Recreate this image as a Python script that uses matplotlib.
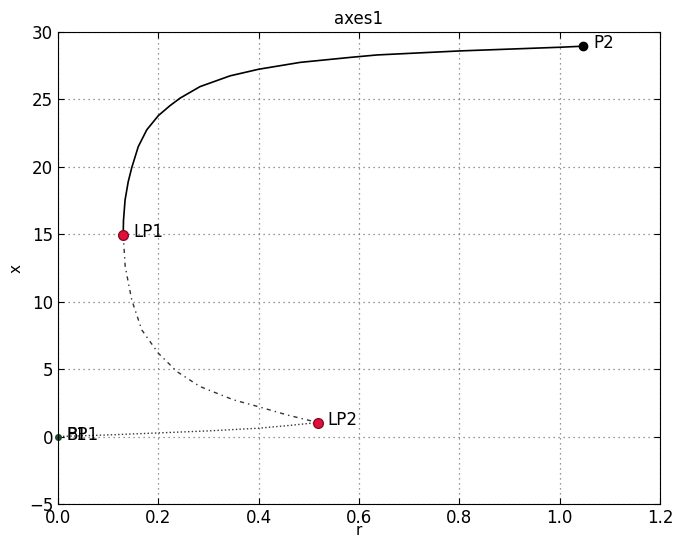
import numpy as np
import matplotlib
matplotlib.use("Agg")
import matplotlib.pyplot as plt

# stable branch LP1 -> P2
stab_r = [0.130, 0.1305, 0.1337, 0.140, 0.147, 0.160, 0.177, 0.200, 0.2236,
          0.2435, 0.283, 0.343, 0.400, 0.483, 0.583, 0.636, 0.802, 1.000, 1.047]
stab_x = [14.95, 16.0, 17.55, 18.9, 19.94, 21.5, 22.75, 23.8, 24.55,
          25.1, 25.95, 26.75, 27.24, 27.75, 28.12, 28.3, 28.6, 28.87, 28.95]

# unstable branch LP1 -> LP2
unst_r = [0.130, 0.134, 0.147, 0.167, 0.200, 0.237, 0.283, 0.350, 0.403, 0.456, 0.518]
unst_x = [14.95, 12.6, 10.13, 7.91, 6.18, 4.82, 3.71, 2.72, 2.18, 1.61, 1.04]

# branch LP2 -> BP1
low_r = [0.518, 0.46, 0.40, 0.30, 0.20, 0.10, 0.0]
low_x = [1.04, 0.82, 0.62, 0.42, 0.27, 0.12, 0.0]

lp_names = ["LP1", "LP2"]
lp_r = [0.130, 0.518]
lp_x = [14.95, 1.04]

fig = plt.figure(figsize=(6.76, 5.40), dpi=100)
ax = fig.add_axes([0.0858, 0.0667, 0.8905, 0.874])

ax.plot(stab_r, stab_x, "-", color="black", linewidth=1.2)
ax.plot(unst_r, unst_x, linestyle=(0, (3, 3, 1, 3)), color="#333333", linewidth=1.0)
ax.plot(low_r, low_x, ":", color="#333333", linewidth=1.0)

ax.plot(lp_r, lp_x, "o", color="#e0103a", markeredgecolor="#8a0a20", markersize=7)
ax.plot([1.047], [28.95], "o", color="black", markersize=6)
ax.plot([0.0], [0.0], "o", color="#1a4a2a", markersize=4, clip_on=False)

for name, r, x in zip(lp_names, lp_r, lp_x):
    ax.annotate(name, (r, x), xytext=(7, 2), textcoords="offset points",
                fontsize=12, va="center")
ax.annotate("P2", (1.047, 28.95), xytext=(7, 2), textcoords="offset points",
            fontsize=12, va="center")
ax.annotate("BP1", (0.0, 0.0), xytext=(6, 1), textcoords="offset points",
            fontsize=12, va="center")
ax.annotate("P1", (0.0, 0.0), xytext=(6, 1), textcoords="offset points",
            fontsize=12, va="center")

ax.set_xlim(0, 1.2)
ax.set_ylim(-5, 30)
ax.set_xticks(np.arange(0, 1.21, 0.2))
ax.set_yticks(np.arange(-5, 31, 5))
ax.tick_params(direction="in", top=True, right=True, labelsize=12, length=4)
ax.grid(True, linestyle=(0, (1, 3)), color="#777777", linewidth=0.9)
ax.set_title("axes1", fontsize=12)
ax.set_xlabel("r", fontsize=11, labelpad=-3)
ax.set_ylabel("x", fontsize=11)

fig.savefig("out.png", dpi=100)
